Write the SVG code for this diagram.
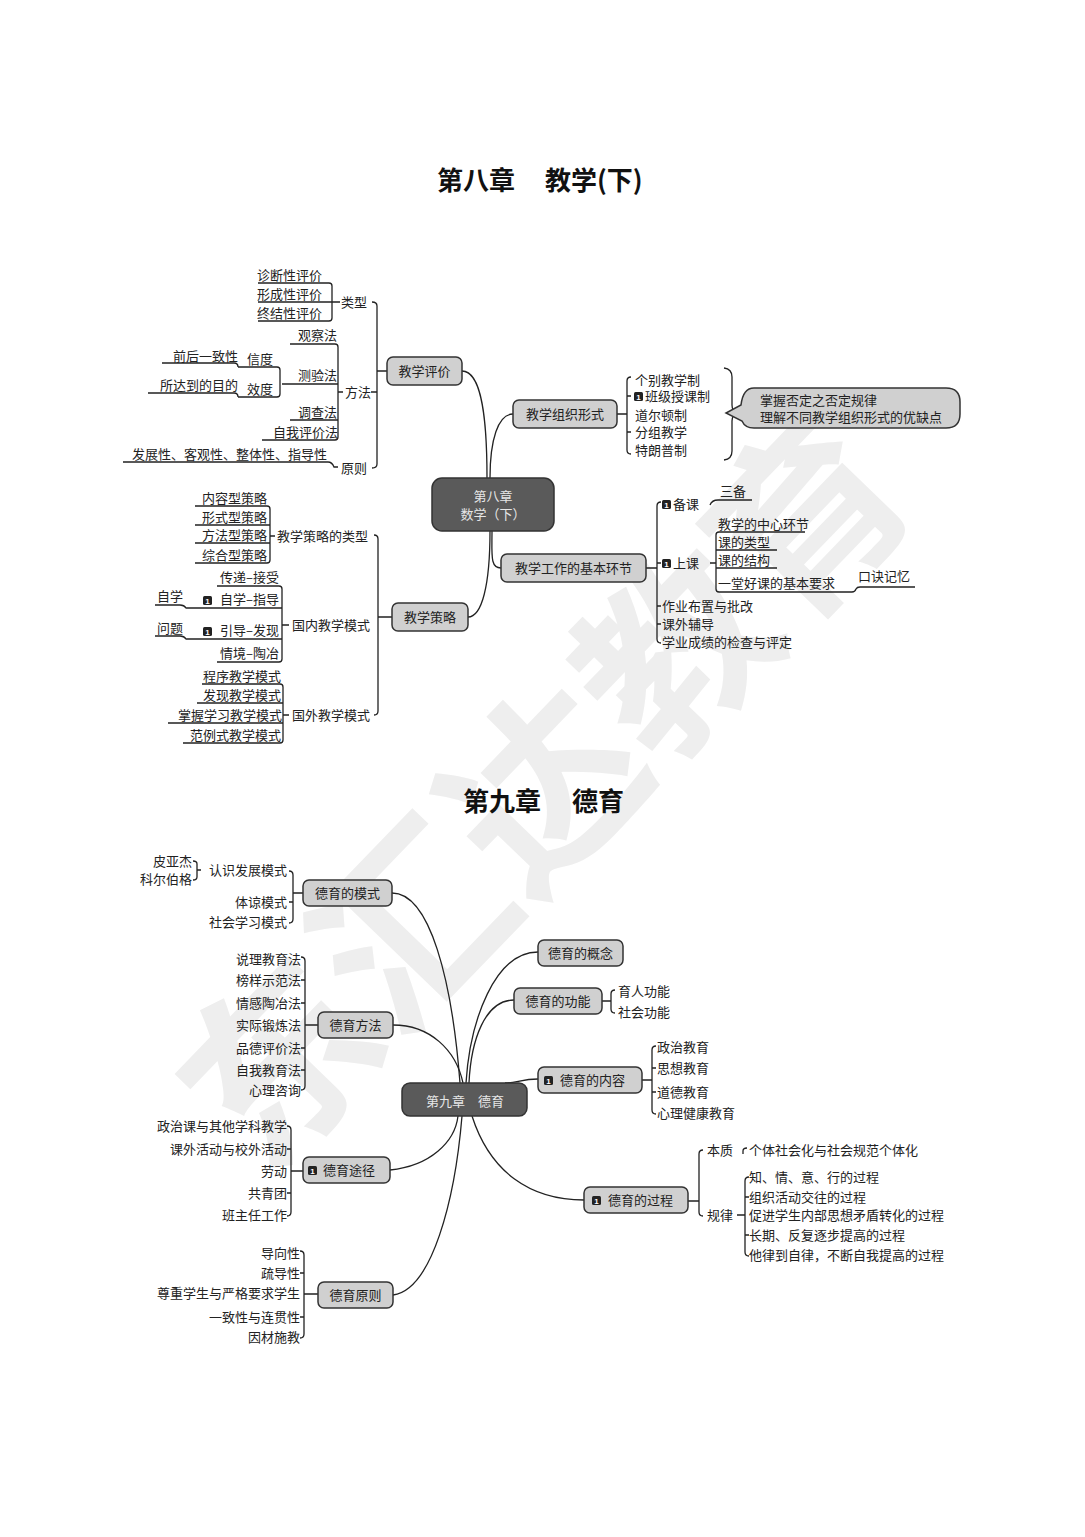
<svg xmlns="http://www.w3.org/2000/svg" xmlns:xlink="http://www.w3.org/1999/xlink" width="1085" height="1537" viewBox="0 0 1085 1537">
<style>
text{font-family:"Noto Sans CJK SC","Noto Sans",sans-serif;font-size:13px;fill:#222}
.e{text-anchor:end}
.m{text-anchor:middle}
.title{font-size:26px;font-weight:bold;fill:#111}
.n{fill:#d0d0d0;stroke:#333;stroke-width:1.5}
.c{fill:#5a5a5a;stroke:#333;stroke-width:1.5}
.ct{fill:#e6e6e6}
.ln{fill:none;stroke:#222;stroke-width:1.3}
.wm{font-size:190px;font-weight:bold;fill:#eeeeee;text-anchor:middle}
</style>
<defs>
<g id="one"><rect width="9" height="9" rx="1.5" fill="#222"/><text x="4.5" y="8" font-size="8" font-weight="bold" fill="#fff" text-anchor="middle" style="font-family:'Liberation Sans',sans-serif;font-size:8px;fill:#fff">1</text></g>
</defs>
<rect width="1085" height="1537" fill="#fff"/>
<text class="wm" transform="translate(545,790) rotate(-46)" y="68">东汇达教育</text>

<text class="title" y="190"><tspan x="437">第八章</tspan><tspan x="545">教学(下)</tspan></text>
<text class="title" y="811"><tspan x="463">第九章</tspan><tspan x="572">德育</tspan></text>

<g id="connectors" class="ln">
<!-- chapter 8 main -->
<path d="M462,371 C482,371 487,420 487,478"/>
<path d="M513,414 C498,414 490,440 490,478"/>
<path d="M492,531 C492,555 490,568 501,568"/>
<path d="M490,531 C490,585 482,617 468,617"/>
<!-- 教学评价 -->
<path d="M372,302 Q377,302 377,306 V464 Q377,468 372,468"/>
<path d="M377,371 H387 M371,392 H377"/>
<path d="M258,283 H329 Q332,283 332,286 V318 Q332,321 329,321 H258 M258,302 H340"/>
<path d="M290,344 H335 Q338,344 338,347 V437 Q338,440 335,440 H262 M282,384 H338 M290,420 H338 M338,392 H343"/>
<path d="M238,367 H277 Q280,367 280,370 V394 Q280,397 277,397 H238"/>
<path d="M162,363 H234 Q238,363 238,367 M148,393 H234 Q238,393 238,397"/>
<path d="M123,462 H328 Q332,462 334,467 H338"/>
<!-- 教学策略 -->
<path d="M374,535 Q378,535 378,539 V711 Q378,715 374,715 M378,617 H392"/>
<path d="M195,506 H267 Q270,506 270,509 V560 Q270,563 267,563 H195 M195,525 H270 M195,543 H270 M270,536 H275"/>
<path d="M217,586 H279 Q282,586 282,589 V659 Q282,662 279,662 H217 M190,608 H282 M190,639 H282 M282,625 H289"/>
<path d="M155,605 H180 Q184,605 186,608 H190 M155,636 H180 Q184,636 186,639 H190"/>
<path d="M202,684 H280 Q283,684 283,687 V740 Q283,743 280,743 H183 M197,703 H283 M168,723 H283 M283,715 H289"/>
<!-- 教学组织形式 -->
<path d="M631,377 Q627,377 627,381 V450 Q627,454 631,454 M617,414 H627 M627,396 H631 M627,432 H631"/>
<path d="M724,368 Q732,369 732,377 V405 Q732,411 737,413 Q732,415 732,421 V451 Q732,459 724,460"/>
<!-- 教学工作的基本环节 -->
<path d="M661,502 Q657,502 657,506 V639 Q657,643 661,643 M646,568 H657 M657,563 H661 M657,606 H661 M657,624 H661"/>
<path d="M710,505 Q712,500 718,500 H752"/>
<path d="M805,532 H719 Q716,532 716,535 V589 Q716,592 719,592 H852 Q855,592 856,589 Q857,587 860,587 H915 M716,550 H777 M716,568 H777 M710,563 H716"/>
<!-- chapter 9 main -->
<path d="M392,893 C430,893 452,980 460,1083"/>
<path d="M393,1025 C430,1025 456,1050 463,1083"/>
<path d="M538,952 C495,952 470,1020 466,1083"/>
<path d="M514,1000 C485,1000 471,1040 469,1083"/>
<path d="M538,1079 C522,1079 516,1083 505,1083"/>
<path d="M390,1170 C430,1166 455,1142 458,1116"/>
<path d="M393,1295 C432,1290 455,1200 462,1116"/>
<path d="M584,1200 C530,1200 490,1172 472,1116"/>
<!-- 德育的模式 -->
<path d="M289,871 Q293,871 293,875 V919 Q293,923 289,923 M293,893 H303 M289,902 H293"/>
<path d="M193,861 Q197,861 197,864 V877 Q197,880 193,880 M197,870 H201"/>
<!-- 德育方法 -->
<path d="M301,957 Q305,957 305,961 V1086 Q305,1090 301,1090 M305,1025 H318 M301,980 H305 M301,1003 H305 M301,1048 H305 M301,1070 H305"/>
<!-- 德育途径 -->
<path d="M287,1126 Q291,1126 291,1130 V1212 Q291,1216 287,1216 M291,1171 H303 M287,1149 H291 M287,1193 H291"/>
<!-- 德育原则 -->
<path d="M300,1251 Q304,1251 304,1255 V1334 Q304,1338 300,1338 M304,1294 H318 M300,1273 H304 M300,1317 H304"/>
<!-- 德育的功能 -->
<path d="M615,990 Q611,990 611,994 V1009 Q611,1013 615,1013 M602,1001 H611"/>
<!-- 德育的内容 -->
<path d="M656,1046 Q652,1046 652,1050 V1110 Q652,1114 656,1114 M642,1080 H652 M652,1068 H656 M652,1092 H656"/>
<!-- 德育的过程 -->
<path d="M703,1150 Q699,1150 699,1154 V1212 Q699,1216 703,1216 M688,1201 H699"/>
<path d="M743,1154 V1151 Q743,1148 747,1148"/>
<path d="M749,1177 Q745,1177 745,1181 V1252 Q745,1256 749,1256 M737,1215 H745 M745,1197 H749 M745,1235 H749"/>
</g>

<!-- Chapter 8 nodes -->
<g id="ch8">
<rect class="c" x="432" y="478" width="122" height="53" rx="10"/>
<text class="m ct" x="493" y="501">第八章</text>
<text class="m ct" x="493" y="519">数学（下）</text>
</g>
<g id="jxpj"><rect class="n" x="387" y="357" width="75" height="28" rx="6"/><text class="m" x="424.5" y="376">教学评价</text></g>
<g id="jxzzxs"><rect class="n" x="513" y="400" width="104" height="28" rx="6"/><text class="m" x="565" y="419">教学组织形式</text></g>
<g id="jxgzjbhj"><rect class="n" x="501" y="554" width="145" height="28" rx="6"/><text class="m" x="573.5" y="573">教学工作的基本环节</text></g>
<g id="jxcl"><rect class="n" x="392" y="603" width="76" height="28" rx="6"/><text class="m" x="430" y="622">教学策略</text></g>

<g id="jxpj-leaves">
<text x="341" y="307">类型</text>
<text x="345" y="397">方法</text>
<text x="341" y="473">原则</text>
<text x="257" y="280">诊断性评价</text>
<text x="257" y="299">形成性评价</text>
<text x="257" y="318">终结性评价</text>
<text x="298" y="340">观察法</text>
<text x="298" y="380">测验法</text>
<text x="298" y="417">调查法</text>
<text x="273" y="437">自我评价法</text>
<text x="247" y="364">信度</text>
<text x="247" y="394">效度</text>
<text x="173" y="361">前后一致性</text>
<text x="160" y="390">所达到的目的</text>
<text x="132" y="459">发展性、客观性、整体性、指导性</text>
</g>

<g id="jxcl-leaves">
<text x="277" y="541">教学策略的类型</text>
<text x="202" y="503">内容型策略</text>
<text x="202" y="522">形式型策略</text>
<text x="202" y="540">方法型策略</text>
<text x="202" y="560">综合型策略</text>
<text x="292" y="630">国内教学模式</text>
<text x="220" y="582">传递–接受</text>
<use xlink:href="#one" href="#one" x="203" y="596"/>
<text x="220" y="604">自学–指导</text>
<text x="157" y="601">自学</text>
<use xlink:href="#one" href="#one" x="203" y="627"/>
<text x="220" y="635">引导–发现</text>
<text x="157" y="633">问题</text>
<text x="220" y="658">情境–陶冶</text>
<text x="292" y="720">国外教学模式</text>
<text x="203" y="681">程序教学模式</text>
<text x="203" y="700">发现教学模式</text>
<text x="178" y="720">掌握学习教学模式</text>
<text x="190" y="740">范例式教学模式</text>
</g>

<g id="jxzzxs-leaves">
<text x="635" y="385">个别教学制</text>
<use xlink:href="#one" href="#one" x="634" y="392"/>
<text x="645" y="401">班级授课制</text>
<text x="635" y="420">道尔顿制</text>
<text x="635" y="437">分组教学</text>
<text x="635" y="455">特朗普制</text>
</g>
<g id="bubble">
<path class="n" d="M754,388 H946 Q960,388 960,402 V414 Q960,428 946,428 H754 Q745,428 742,421 L726,413 L741,405 Q743,388 754,388 Z"/>
<text x="760" y="405">掌握否定之否定规律</text>
<text x="760" y="422">理解不同教学组织形式的优缺点</text>
</g>

<g id="jxgz-leaves">
<use xlink:href="#one" href="#one" x="662" y="500"/>
<text x="673" y="509">备课</text>
<text x="720" y="496">三备</text>
<use xlink:href="#one" href="#one" x="662" y="559"/>
<text x="673" y="568">上课</text>
<text x="718" y="529">教学的中心环节</text>
<text x="718" y="547">课的类型</text>
<text x="718" y="565">课的结构</text>
<text x="718" y="588">一堂好课的基本要求</text>
<text x="858" y="581">口诀记忆</text>
<text x="662" y="611">作业布置与批改</text>
<text x="662" y="629">课外辅导</text>
<text x="662" y="647">学业成绩的检查与评定</text>
</g>

<!-- Chapter 9 nodes -->
<g id="ch9"><rect class="c" x="402" y="1083" width="125" height="33" rx="8"/><text class="m ct" x="465" y="1106">第九章　德育</text></g>
<g id="dydms"><rect class="n" x="303" y="880" width="89" height="26" rx="6"/><text class="m" x="347.5" y="898">德育的模式</text></g>
<g id="dyff"><rect class="n" x="318" y="1012" width="75" height="26" rx="6"/><text class="m" x="355.5" y="1030">德育方法</text></g>
<g id="dytj"><rect class="n" x="303" y="1157" width="87" height="26" rx="6"/><use xlink:href="#one" href="#one" x="308" y="1166"/><text x="323" y="1175">德育途径</text></g>
<g id="dyyz"><rect class="n" x="318" y="1282" width="75" height="26" rx="6"/><text class="m" x="355.5" y="1300">德育原则</text></g>
<g id="dydgn"><rect class="n" x="538" y="940" width="85" height="26" rx="6"/><text class="m" x="580.5" y="958">德育的概念</text></g>
<g id="dydgneng"><rect class="n" x="514" y="988" width="88" height="26" rx="6"/><text class="m" x="558" y="1006">德育的功能</text></g>
<g id="dydnr"><rect class="n" x="538" y="1067" width="104" height="26" rx="6"/><use xlink:href="#one" href="#one" x="544" y="1076"/><text x="560" y="1085">德育的内容</text></g>
<g id="dydgc"><rect class="n" x="584" y="1187" width="104" height="26" rx="6"/><use xlink:href="#one" href="#one" x="592" y="1196"/><text x="608" y="1205">德育的过程</text></g>

<g id="dydms-leaves">
<text class="e" x="192" y="866">皮亚杰</text>
<text class="e" x="192" y="884">科尔伯格</text>
<text class="e" x="287" y="875">认识发展模式</text>
<text class="e" x="287" y="907">体谅模式</text>
<text class="e" x="287" y="927">社会学习模式</text>
</g>
<g id="dyff-leaves">
<text class="e" x="301" y="964">说理教育法</text>
<text class="e" x="301" y="985">榜样示范法</text>
<text class="e" x="301" y="1008">情感陶冶法</text>
<text class="e" x="301" y="1030">实际锻炼法</text>
<text class="e" x="301" y="1053">品德评价法</text>
<text class="e" x="301" y="1075">自我教育法</text>
<text class="e" x="301" y="1095">心理咨询</text>
</g>
<g id="dytj-leaves">
<text class="e" x="287" y="1131">政治课与其他学科教学</text>
<text class="e" x="287" y="1154">课外活动与校外活动</text>
<text class="e" x="287" y="1176">劳动</text>
<text class="e" x="287" y="1198">共青团</text>
<text class="e" x="287" y="1220">班主任工作</text>
</g>
<g id="dyyz-leaves">
<text class="e" x="300" y="1258">导向性</text>
<text class="e" x="300" y="1278">疏导性</text>
<text class="e" x="300" y="1298">尊重学生与严格要求学生</text>
<text class="e" x="300" y="1322">一致性与连贯性</text>
<text class="e" x="300" y="1342">因材施教</text>
</g>
<g id="dydgneng-leaves">
<text x="618" y="996">育人功能</text>
<text x="618" y="1017">社会功能</text>
</g>
<g id="dydnr-leaves">
<text x="657" y="1052">政治教育</text>
<text x="657" y="1073">思想教育</text>
<text x="657" y="1097">道德教育</text>
<text x="657" y="1118">心理健康教育</text>
</g>
<g id="dydgc-leaves">
<text x="707" y="1155">本质</text>
<text x="707" y="1220">规律</text>
<text x="749" y="1155">个体社会化与社会规范个体化</text>
<text x="749" y="1182">知、情、意、行的过程</text>
<text x="749" y="1202">组织活动交往的过程</text>
<text x="749" y="1220">促进学生内部思想矛盾转化的过程</text>
<text x="749" y="1240">长期、反复逐步提高的过程</text>
<text x="749" y="1260">他律到自律，不断自我提高的过程</text>
</g>
</svg>
